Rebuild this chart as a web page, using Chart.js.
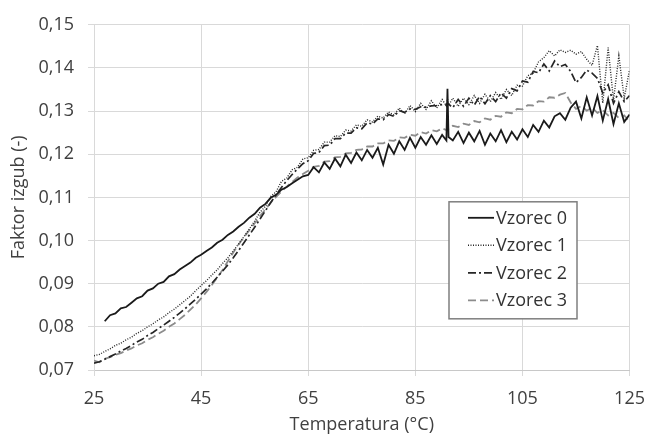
<!DOCTYPE html>
<html>
<head>
<meta charset="utf-8">
<script src="https://cdn.jsdelivr.net/npm/chart.js@4.4.1/dist/chart.umd.min.js"></script>
<style>
  html, body { margin: 0; padding: 0; background: #fff; }
  #wrap { width: 657px; height: 439px; }
</style>
</head>
<body>
<div id="wrap"><canvas id="chart" width="657" height="439"></canvas></div>
<script>
// temperature readings (°C), shared by all four samples
const temps = [
  25, 26, 27, 28, 29, 30, 31, 32, 33, 34,
  35, 36, 37, 38, 39, 40, 41, 42, 43, 44,
  45, 46, 47, 48, 49, 50, 51, 52, 53, 54,
  55, 56, 57, 58, 59, 60, 61, 62, 63, 64,
  65, 66, 67, 68, 69, 70, 71, 72, 73, 74,
  75, 76, 77, 78, 79, 80, 81, 82, 83, 84,
  85, 86, 87, 88, 89, 90, 90.8, 91, 91.2,
  92, 93, 94, 95, 96, 97, 98, 99, 100, 101,
  102, 103, 104, 105, 106, 107, 108, 109, 110, 111,
  112, 113, 114, 115, 116, 117, 118, 119, 120, 121,
  122, 123, 124, 125
];

const vzorec0 = [
  null, null, 0.0813, 0.0827, 0.0831, 0.0843, 0.0846, 0.0856, 0.0866, 0.0871,
  0.0884, 0.0889, 0.0900, 0.0904, 0.0917, 0.0922, 0.0933, 0.0941, 0.0949, 0.0960,
  0.0967, 0.0976, 0.0984, 0.0995, 0.1002, 0.1013, 0.1021, 0.1032, 0.1041, 0.1053,
  0.1062, 0.1076, 0.1085, 0.1099, 0.1106, 0.1118, 0.1124, 0.1133, 0.1141, 0.1149,
  0.1152, 0.1170, 0.1158, 0.1181, 0.1166, 0.1190, 0.1172, 0.1199, 0.1180, 0.1204,
  0.1186, 0.1210, 0.1192, 0.1215, 0.1176, 0.1222, 0.1201, 0.1230, 0.1210, 0.1238,
  0.1215, 0.1240, 0.1222, 0.1244, 0.1224, 0.1245, 0.1232, 0.1352, 0.1240,
  0.1232, 0.1252, 0.1226, 0.1250, 0.1230, 0.1254, 0.1222, 0.1248, 0.1230, 0.1256,
  0.1228, 0.1252, 0.1234, 0.1258, 0.1240, 0.1268, 0.1252, 0.1278, 0.1262, 0.1288,
  0.1295, 0.1280, 0.1308, 0.1322, 0.1283, 0.1332, 0.1290, 0.1335, 0.1278, 0.1328,
  0.1270, 0.1318, 0.1275, 0.1292
];

const vzorec1 = [
  0.0733, 0.0736, 0.0743, 0.0749, 0.0757, 0.0762, 0.0770, 0.0776, 0.0785, 0.0791,
  0.0800, 0.0807, 0.0816, 0.0823, 0.0833, 0.0841, 0.0851, 0.0861, 0.0871, 0.0884,
  0.0896, 0.0907, 0.0920, 0.0932, 0.0947, 0.0960, 0.0976, 0.0992, 0.1009, 0.1027,
  0.1045, 0.1066, 0.1079, 0.1102, 0.1113, 0.1137, 0.1145, 0.1164, 0.1170, 0.1189,
  0.1192, 0.1209, 0.1211, 0.1228, 0.1228, 0.1243, 0.1241, 0.1256, 0.1254, 0.1268,
  0.1265, 0.1280, 0.1275, 0.1288, 0.1284, 0.1298, 0.1291, 0.1307, 0.1294, 0.1313,
  0.1299, 0.1318, 0.1304, 0.1324, 0.1307, 0.1327, 0.1312, 0.1328, 0.1313,
  0.1330, 0.1311, 0.1330, 0.1315, 0.1336, 0.1318, 0.1339, 0.1322, 0.1343, 0.1327,
  0.1350, 0.1336, 0.1360, 0.1358, 0.1382, 0.1388, 0.1414, 0.1424, 0.1440, 0.1428,
  0.1442, 0.1436, 0.1441, 0.1432, 0.1438, 0.1420, 0.1406, 0.1452, 0.1318, 0.1447,
  0.1325, 0.1428, 0.1330, 0.1396
];

const vzorec2 = [
  0.0716, 0.0719, 0.0725, 0.0731, 0.0737, 0.0744, 0.0750, 0.0757, 0.0765, 0.0771,
  0.0780, 0.0787, 0.0796, 0.0804, 0.0813, 0.0822, 0.0832, 0.0842, 0.0853, 0.0864,
  0.0876, 0.0888, 0.0901, 0.0915, 0.0929, 0.0944, 0.0960, 0.0977, 0.0995, 0.1013,
  0.1031, 0.1050, 0.1069, 0.1088, 0.1106, 0.1123, 0.1139, 0.1153, 0.1166, 0.1178,
  0.1185, 0.1202, 0.1204, 0.1220, 0.1221, 0.1236, 0.1236, 0.1249, 0.1249, 0.1261,
  0.1259, 0.1273, 0.1270, 0.1282, 0.1280, 0.1292, 0.1288, 0.1301, 0.1297, 0.1305,
  0.1304, 0.1310, 0.1309, 0.1312, 0.1313, 0.1315, 0.1314, 0.1318, 0.1316,
  0.1308, 0.1327, 0.1311, 0.1330, 0.1314, 0.1334, 0.1317, 0.1336, 0.1322, 0.1342,
  0.1330, 0.1352, 0.1347, 0.1370, 0.1367, 0.1392, 0.1389, 0.1409, 0.1393, 0.1416,
  0.1403, 0.1408, 0.1392, 0.1366, 0.1378, 0.1395, 0.1388, 0.1376, 0.1342, 0.1361,
  0.1318, 0.1345, 0.1322, 0.1336
];

const vzorec3 = [
  0.0722, 0.0718, 0.0726, 0.0730, 0.0735, 0.0739, 0.0745, 0.0750, 0.0757, 0.0762,
  0.0770, 0.0776, 0.0784, 0.0791, 0.0800, 0.0808, 0.0818, 0.0828, 0.0840, 0.0852,
  0.0866, 0.0881, 0.0897, 0.0914, 0.0932, 0.0952, 0.0972, 0.0991, 0.1008, 0.1024,
  0.1040, 0.1057, 0.1072, 0.1088, 0.1101, 0.1114, 0.1125, 0.1136, 0.1146, 0.1154,
  0.1162, 0.1171, 0.1173, 0.1183, 0.1184, 0.1193, 0.1194, 0.1202, 0.1203, 0.1210,
  0.1211, 0.1218, 0.1218, 0.1225, 0.1225, 0.1232, 0.1231, 0.1239, 0.1238, 0.1245,
  0.1243, 0.1251, 0.1248, 0.1256, 0.1253, 0.1260, 0.1256, 0.1262, 0.1259,
  0.1266, 0.1263, 0.1271, 0.1268, 0.1277, 0.1274, 0.1283, 0.1280, 0.1289, 0.1287,
  0.1297, 0.1295, 0.1305, 0.1304, 0.1314, 0.1313, 0.1323, 0.1322, 0.1332, 0.1331,
  0.1338, 0.1342, 0.1320, 0.1305, 0.1312, 0.1301, 0.1308, 0.1296, 0.1302, 0.1290,
  0.1296, 0.1284, 0.1290, 0.1276
];

const seriesNames = ['Vzorec 0', 'Vzorec 1', 'Vzorec 2', 'Vzorec 3'];
const xTicks = [25, 45, 65, 85, 105, 125];
const yTicks = [0.07, 0.08, 0.09, 0.10, 0.11, 0.12, 0.13, 0.14, 0.15];

const FONT = '"Open Sans", "Liberation Sans", sans-serif';
const textColor = '#404040';
const gridColor = '#d9d9d9';

const toPoints = (vals) => temps.map((t, i) => ({ x: t, y: vals[i] }));

// legend drawn as a framed box inside the plot, like the original
const boxLegend = {
  id: 'boxLegend',
  afterDatasetsDraw(chart) {
    const { ctx, chartArea } = chart;
    const x0 = chartArea.left + 355, y0 = chartArea.top + 177, w = 128, h = 117;
    ctx.save();
    ctx.fillStyle = '#fff';
    ctx.fillRect(x0, y0, w, h);
    ctx.strokeStyle = '#7f7f7f';
    ctx.lineWidth = 1.5;
    ctx.strokeRect(x0, y0, w, h);
    ctx.font = '18px ' + FONT;
    ctx.textBaseline = 'middle';
    chart.data.datasets.forEach((ds, i) => {
      const y = y0 + 16 + i * 27.5;
      ctx.strokeStyle = ds.borderColor;
      ctx.lineWidth = ds.borderWidth;
      ctx.setLineDash(ds.borderDash || []);
      ctx.beginPath();
      ctx.moveTo(x0 + 19, y);
      ctx.lineTo(x0 + 45, y);
      ctx.stroke();
      ctx.setLineDash([]);
      ctx.fillStyle = '#333';
      ctx.fillText(ds.label, x0 + 47, y + 1);
    });
    ctx.restore();
  }
};

new Chart(document.getElementById('chart'), {
  type: 'line',
  data: {
    datasets: [
      { label: seriesNames[0], data: toPoints(vzorec0), borderColor: '#1a1a1a', borderWidth: 1.8, borderDash: [] },
      { label: seriesNames[1], data: toPoints(vzorec1), borderColor: '#262626', borderWidth: 1.4, borderDash: [1, 1.5] },
      { label: seriesNames[2], data: toPoints(vzorec2), borderColor: '#262626', borderWidth: 1.7, borderDash: [8, 3, 2, 3] },
      { label: seriesNames[3], data: toPoints(vzorec3), borderColor: '#8c8c8c', borderWidth: 1.8, borderDash: [8, 4] }
    ]
  },
  options: {
    responsive: false,
    animation: false,
    layout: { padding: { top: 24, right: 19, left: 0, bottom: 0 } },
    elements: { point: { radius: 0 }, line: { tension: 0 } },
    plugins: { legend: { display: false }, tooltip: { enabled: false } },
    scales: {
      x: {
        type: 'linear',
        min: 25,
        max: 125,
        afterBuildTicks: (s) => { s.ticks = xTicks.map(v => ({ value: v })); },
        afterFit: (s) => { s.height = 69; },
        grid: { color: gridColor, tickColor: gridColor, tickLength: 6 },
        border: { color: '#c8c8c8' },
        ticks: { color: textColor, font: { family: FONT, size: 18 }, padding: 12, maxRotation: 0 },
        title: { display: true, text: 'Temperatura (°C)', color: textColor, font: { family: FONT, size: 18 }, padding: { top: 0, bottom: 3 } }
      },
      y: {
        min: 0.07,
        max: 0.15,
        afterBuildTicks: (s) => { s.ticks = yTicks.map(v => ({ value: v })); },
        afterFit: (s) => { s.width = 94; },
        grid: { color: gridColor, tickColor: gridColor, tickLength: 6 },
        border: { color: gridColor },
        ticks: {
          color: textColor,
          font: { family: FONT, size: 18 },
          padding: 14,
          callback: (v) => v.toFixed(2).replace('.', ',')
        },
        title: { display: true, text: 'Faktor izgub (-)', color: textColor, font: { family: FONT, size: 18 }, padding: { top: 8, bottom: 0 } }
      }
    }
  },
  plugins: [boxLegend]
});
</script>
</body>
</html>
